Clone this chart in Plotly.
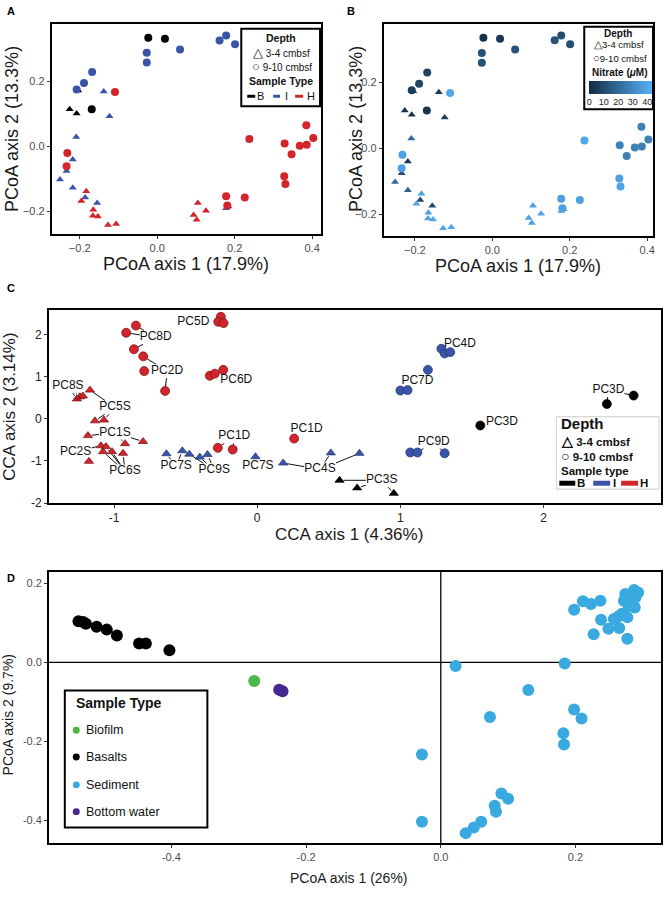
import plotly.graph_objects as go

W, H = 666, 902
FONT = "Liberation Sans, Arial, Helvetica, sans-serif"

# ---------------- panels A and B : PCoA (17.9% / 13.3%)
pcoa_x = [-0.023, 0.020, -0.169, -0.204, -0.226, -0.208,
          -0.027, -0.027, 0.059, 0.161, 0.178, 0.201, -0.168, -0.189, -0.208,
          -0.138, -0.123, -0.209, -0.218, -0.234, -0.251, -0.218, -0.186, -0.155, 0.178,
          -0.109, -0.232, -0.234, 0.238, 0.329, 0.347, 0.368, 0.386, 0.385, 0.403,
          0.328, 0.331, 0.178, 0.181, 0.226,
          0.184, -0.183, -0.196, -0.165, -0.166, -0.153, -0.127, -0.106,
          0.105, 0.126, 0.094, 0.102]
pcoa_y = [0.334, 0.331, 0.114, 0.172, 0.114, 0.101,
          0.288, 0.258, 0.298, 0.326, 0.341, 0.314, 0.229, 0.195, 0.175,
          0.169, 0.093, 0.029, -0.040, -0.076, -0.102, -0.127, -0.157, -0.174, -0.190,
          0.167, -0.020, -0.061, 0.023, 0.009, -0.024, 0.002, 0.005, 0.065, 0.026,
          -0.092, -0.116, -0.153, -0.182, -0.157,
          -0.185, -0.138, -0.168, -0.195, -0.213, -0.216, -0.242, -0.239,
          -0.174, -0.198, -0.211, -0.226]
pcoa_type = (["B"] * 6 + ["I"] * 19 + ["H"] * 27)
pcoa_depth = (["D"] * 3 + ["S"] * 3 + ["D"] * 9 + ["S"] * 10 + ["D"] * 15 + ["S"] * 12)
pcoa_nitrate = [2, 4, 3, 5, 3, 3,
                12, 12, 13, 13, 11, 11, 8, 9, 6,
                5, 6, 20, 5, 12, 20, 18, 10, 10, 38,
                40, 38, 38, 40, 28, 27, 28, 28, 28, 28,
                38, 40, 38, 38, 38,
                36, 38, 40, 38, 38, 40, 40, 40,
                38, 38, 38, 38]

# ---------------- panel C : CCA (4.36% / 3.14%)
cca_x = [-0.254, -0.272, -0.235, -0.915, -0.847, -0.861, -0.796, -0.789, -0.643,
         -0.331, -0.296, -0.237, -0.275, -0.171, 0.258,
         -1.259, -1.238, -1.217, -1.168, -1.133, -1.070, -1.182, -0.923, -0.797,
         -1.091, -1.056, -1.077, -1.014, -0.937, -1.175,
         -0.634, -0.523, -0.474, -0.401, -0.347, -0.012, 0.181, 0.514, 0.714,
         1.286, 1.309, 1.348, 1.192, 1.000, 1.050, 1.069, 1.119, 1.309,
         1.558, 2.442, 2.629,
         0.575, 0.698, 0.954]
cca_y = [2.42, 2.30, 2.27, 2.04, 2.21, 1.65, 1.48, 1.13, 0.66,
         1.02, 1.07, 1.16, -0.69, -0.73, -0.47,
         0.47, 0.52, 0.54, 0.68, -0.05, -0.03, -0.40, -0.59, -0.54,
         -0.64, -0.66, -0.78, -0.78, -0.82, -1.01,
         -0.83, -0.76, -0.84, -0.91, -0.85, -0.90, -1.05, -0.81, -0.82,
         1.66, 1.55, 1.58, 1.16, 0.67, 0.68, -0.80, -0.80, -0.82,
         -0.16, 0.35, 0.55,
         -1.46, -1.64, -1.77]
cca_type = ["H"] * 30 + ["I"] * 18 + ["B"] * 6
cca_depth = ["D"] * 15 + ["S"] * 15 + ["S"] * 9 + ["D"] * 9 + ["D"] * 3 + ["S"] * 3
cca_lab_text = ["PC5D", "PC8D", "PC2D", "PC6D", "PC1D", "PC1D", "PC8S", "PC5S", "PC1S",
                "PC2S", "PC6S", "PC7S", "PC9S", "PC7S", "PC4S", "PC3S", "PC4D", "PC7D",
                "PC9D", "PC3D", "PC3D"]
cca_lab_x = [-0.446, -0.709, -0.629, -0.146, -0.160, 0.345, -1.322, -0.993, -0.993,
             -1.268, -0.923, -0.566, -0.300, 0.005, 0.439, 0.870, 1.416, 1.119,
             1.233, 1.709, 2.453]
cca_lab_y = [2.29, 1.93, 1.13, 0.93, -0.42, -0.24, 0.77, 0.27, -0.33,
             -0.78, -1.25, -1.13, -1.22, -1.13, -1.20, -1.46, 1.78, 0.90,
             -0.54, -0.08, 0.68]
# which label each point is tied to (-1: none)
cca_link = [-1, -1, -1, 1, 1, 1, 2, -1, 2,
            -1, -1, -1, 4, 4, -1,
            6, 6, 6, 7, 7, 7, 8, 8, 8,
            9, 10, 10, 10, 10, -1,
            11, 11, 12, 12, 12, -1, 14, 14, 14,
            -1, -1, -1, -1, 17, -1, 18, 18, 18,
            -1, 20, 20,
            15, 15, 15]

# ---------------- panel D : PCoA (26% / 9.7%)
basalt_x = [-0.538, -0.531, -0.527, -0.511, -0.496, -0.481, -0.448, -0.438, -0.403]
basalt_y = [0.104, 0.102, 0.098, 0.090, 0.083, 0.068, 0.048, 0.048, 0.031]
biofilm_x = [-0.277]
biofilm_y = [-0.047]
water_x = [-0.240, -0.235]
water_y = [-0.069, -0.073]
sed_x = [0.022, 0.184, 0.130, 0.073, 0.198, 0.209, 0.182, 0.183, -0.028, -0.028,
         0.090, 0.100, 0.080, 0.082, 0.060, 0.049, 0.037,
         0.198, 0.211, 0.223, 0.237, 0.227, 0.238, 0.249, 0.257, 0.265, 0.264,
         0.277, 0.277, 0.269, 0.274, 0.287, 0.293, 0.272, 0.284, 0.288, 0.279, 0.289]
sed_y = [-0.009, -0.003, -0.070, -0.138, -0.119, -0.142, -0.179, -0.208, -0.233, -0.403,
         -0.332, -0.345, -0.363, -0.378, -0.403, -0.418, -0.432,
         0.133, 0.155, 0.148, 0.156, 0.071, 0.108, 0.085, 0.110, 0.087, 0.117,
         0.114, 0.060, 0.123, 0.173, 0.183, 0.177, 0.156, 0.156, 0.139, 0.143, 0.164]

TYPE_COL = {"B": "#000000", "I": "#3A55A8", "H": "#D3242C"}
C_EDGE = {"B": "#000000", "I": "#1E2F6E", "H": "#6E1014"}
SYM = {"S": "triangle-up", "D": "circle"}

A_XR, A_YR = [-0.272, 0.423], [-0.27, 0.377]
B_XR, B_YR = [-0.28, 0.415], [-0.266, 0.376]
C_XR, C_YR = [-1.455, 2.82], [-2.0, 2.59]
D_XR, D_YR = [-0.582, 0.327], [-0.458, 0.23]


def px(x):
    return x / W


def py(y):
    return 1 - y / H


fig = go.Figure()

# panel A
for d in ["S", "D"]:
    idx = [i for i in range(len(pcoa_x)) if pcoa_depth[i] == d]
    fig.add_trace(go.Scatter(
        x=[pcoa_x[i] for i in idx], y=[pcoa_y[i] for i in idx], mode="markers",
        marker=dict(symbol=SYM[d], size=7 if d == "S" else 8,
                    color=[TYPE_COL[pcoa_type[i]] for i in idx], line=dict(width=0)),
        xaxis="x", yaxis="y", showlegend=False))

# panel B
for d in ["S", "D"]:
    idx = [i for i in range(len(pcoa_x)) if pcoa_depth[i] == d]
    fig.add_trace(go.Scatter(
        x=[pcoa_x[i] for i in idx], y=[pcoa_y[i] for i in idx], mode="markers",
        marker=dict(symbol=SYM[d], size=7 if d == "S" else 8,
                    color=[pcoa_nitrate[i] for i in idx], coloraxis="coloraxis",
                    line=dict(width=0)),
        xaxis="x2", yaxis="y2", showlegend=False))

# panel C leader segments
cxs = (663 - 49) / (C_XR[1] - C_XR[0])
cys = (507 - 312) / (C_YR[1] - C_YR[0])
seg_x, seg_y = [], []
for i, li in enumerate(cca_link):
    if li < 0:
        continue
    lx, ly = cca_lab_x[li], cca_lab_y[li]
    ddx, ddy = cca_x[i] - lx, cca_y[i] - ly
    dx, dy = ddx * cxs, ddy * cys
    hw = 3.5 * len(cca_lab_text[li]) + 2
    hh = 7
    t0 = min(hw / abs(dx) if dx else 1e9, hh / abs(dy) if dy else 1e9)
    L = (dx * dx + dy * dy) ** 0.5
    t1 = 1 - 4.0 / L
    if t0 >= t1:
        continue
    seg_x += [lx + t0 * ddx, lx + t1 * ddx, None]
    seg_y += [ly + t0 * ddy, ly + t1 * ddy, None]
fig.add_trace(go.Scatter(x=seg_x, y=seg_y, mode="lines",
                         line=dict(color="#111111", width=1),
                         xaxis="x3", yaxis="y3", showlegend=False, hoverinfo="skip"))

for d in ["S", "D"]:
    idx = [i for i in range(len(cca_x)) if cca_depth[i] == d]
    fig.add_trace(go.Scatter(
        x=[cca_x[i] for i in idx], y=[cca_y[i] for i in idx], mode="markers",
        marker=dict(symbol=SYM[d], size=8 if d == "S" else 9,
                    color=[TYPE_COL[cca_type[i]] for i in idx],
                    line=dict(width=0.7, color=[C_EDGE[cca_type[i]] for i in idx])),
        xaxis="x3", yaxis="y3", showlegend=False))

fig.add_trace(go.Scatter(x=cca_lab_x, y=cca_lab_y, text=cca_lab_text, mode="text",
                         textfont=dict(size=12, color="#111111", family=FONT),
                         xaxis="x3", yaxis="y3", showlegend=False))

# panel D
for xs, ys, col in [(basalt_x, basalt_y, "#000000"), (biofilm_x, biofilm_y, "#4DB848"),
                    (water_x, water_y, "#43288F"), (sed_x, sed_y, "#39A9E0")]:
    fig.add_trace(go.Scatter(x=xs, y=ys, mode="markers",
                             marker=dict(size=12, color=col, line=dict(width=0)),
                             xaxis="x4", yaxis="y4", showlegend=False))


def ax(dom, rng, tv, fmt, lw, tsize=11, tcol="#4D4D4D", ttext=None):
    d = dict(domain=dom, range=rng, tickvals=tv, showgrid=False, zeroline=False,
             showline=True, mirror=True, linecolor="black", linewidth=lw,
             ticks="outside", ticklen=3, tickcolor="#333333", tickwidth=1,
             tickfont=dict(size=tsize, color=tcol, family=FONT))
    if fmt:
        d["tickformat"] = fmt
    if ttext:
        d["ticktext"] = ttext
    return d


fig.update_layout(
    width=W, height=H, margin=dict(l=0, r=0, t=0, b=0),
    paper_bgcolor="white", plot_bgcolor="white", font=dict(family=FONT),
    xaxis=ax([px(52), px(322)], A_XR, [-0.2, 0, 0.2, 0.4], ".1f", 2),
    yaxis=ax([py(236), py(24)], A_YR, [-0.2, 0, 0.2], ".1f", 2),
    xaxis2=dict(ax([px(385), px(655)], B_XR, [-0.2, 0, 0.2, 0.4], ".1f", 2), anchor="y2"),
    yaxis2=dict(ax([py(238), py(24)], B_YR, [-0.2, 0, 0.2], ".1f", 2), anchor="x2"),
    xaxis3=dict(ax([px(49), px(663)], C_XR, [-1, 0, 1, 2], None, 1.5, 12, "#222222",
                   ["-1", "0", "1", "2"]), anchor="y3"),
    yaxis3=dict(ax([py(507), py(312)], C_YR, [-2, -1, 0, 1, 2], None, 1.5, 12, "#222222",
                   ["-2", "-1", "0", "1", "2"]), anchor="x3"),
    xaxis4=dict(ax([px(49), px(663)], D_XR, [-0.4, -0.2, 0, 0.2], None, 1.5,
                   ttext=["-0.4", "-0.2", "0.0", "0.2"]), anchor="y4"),
    yaxis4=dict(ax([py(850), py(576)], D_YR, [-0.4, -0.2, 0, 0.2], None, 1.5,
                   ttext=["-0.4", "-0.2", "0.0", "0.2"]), anchor="x4"),
    coloraxis=dict(colorscale=[[0, "#132B43"], [1, "#56B1F7"]], cmin=0, cmax=43.5,
                   colorbar=dict(orientation="h", xanchor="left", x=px(591),
                                 yanchor="top", y=py(82), lenmode="pixels", len=63,
                                 thickness=13, xpad=0, ypad=0, outlinewidth=0,
                                 tickvals=[0, 10, 20, 30, 40], ticks="",
                                 tickfont=dict(size=9, color="#222222", family=FONT))),
)

shapes = []
ann = []


def text(x, y, s, size, bold=False, anchor="center", color="#111111", angle=0):
    ann.append(dict(x=px(x), y=py(y), xref="paper", yref="paper", showarrow=False,
                    text="<b>%s</b>" % s if bold else s, xanchor=anchor, yanchor="middle",
                    textangle=angle, font=dict(size=size, color=color, family=FONT)))


def rect(x0, y0, x1, y1, lw=0, lc="black", fill="white"):
    shapes.append(dict(type="rect", xref="paper", yref="paper", x0=px(x0), x1=px(x1),
                       y0=py(y0), y1=py(y1), line=dict(width=lw, color=lc), fillcolor=fill))


def glyph(g, size):
    return "<span style='font-size:%dpx'>%s</span>" % (size, g)


# panel letters
for s, x, y in [("A", 5, 11), ("B", 346, 11), ("C", 5, 290), ("D", 5, 583)]:
    text(x, y, s, 11, True, "left", "#000000")

# axis titles
text(187, 266, "PCoA axis 1 (17.9%)", 18, color="#1a1a1a")
text(12, 130, "PCoA axis 2 (13.3%)", 18, color="#1a1a1a", angle=-90)
text(520, 268, "PCoA axis 1 (17.9%)", 18, color="#1a1a1a")
text(357, 130, "PCoA axis 2 (13.3%)", 18, color="#1a1a1a", angle=-90)
text(350, 539, "CCA axis 1 (4.36%)", 17, color="#1a1a1a")
text(10, 410, "CCA axis 2 (3.14%)", 17, color="#1a1a1a", angle=-90)
text(350, 885, "PCoA axis 1 (26%)", 14, color="#1a1a1a")
text(8, 720, "PCoA axis 2 (9.7%)", 14, color="#1a1a1a", angle=-90)

# legend A
rect(242, 29, 321, 107, 2)
text(282, 38, "Depth", 10.5, True)
text(282, 53, glyph("△", 13) + " 3-4 cmbsf", 10)
text(283, 67, glyph("○", 13) + " 9-10 cmbsf", 10)
text(282, 82, "Sample Type", 10.5, True)
for x0, x1, tx, lab, c in [(248, 256, 261, "B", "B"), (274, 281, 287, "I", "I"),
                           (296, 304, 312, "H", "H")]:
    rect(x0, 95.5, x1, 98.5, 0, fill=TYPE_COL[c])
    text(tx, 97, lab, 11)

# legend B
rect(586, 27, 655, 110, 2)
text(620, 34, "Depth", 10, True)
text(621, 44, glyph("△", 11) + "3-4 cmbsf", 9.5)
text(622, 58, glyph("○", 11) + "9-10 cmbsf", 9.5)
text(622, 73, "Nitrate (<i>μ</i>M)", 10, True)

# legend C
rect(558, 420, 661, 493, 1, "#cccccc")
text(561, 427, "Depth", 15, True, "left")
text(561, 444, glyph("△", 14) + " 3-4 cmbsf", 11.5, True, "left")
text(561, 460, glyph("○", 14) + " 9-10 cmbsf", 11.5, True, "left")
text(561, 475, "Sample type", 11.5, True, "left")
for x0, x1, tx, lab, c in [(561, 577, 583, "B", "B"), (595, 612, 616, "I", "I"),
                           (623, 640, 646, "H", "H")]:
    rect(x0, 484.5, x1, 489.5, 0, fill=TYPE_COL[c])
    text(tx, 487, lab, 11.5, True)

# legend D
rect(65, 696, 208, 834, 2)
text(74, 709, "Sample Type", 14, True, "left")
for y, lab, c in [(736, "Biofilm", "#4DB848"), (763, "Basalts", "#000000"),
                  (791, "Sediment", "#39A9E0"), (818, "Bottom water", "#43288F")]:
    shapes.append(dict(type="circle", xref="paper", yref="paper", x0=px(73), x1=px(80),
                       y0=py(y + 3.5), y1=py(y - 3.5), fillcolor=c, line=dict(width=0)))
    text(84, y, lab, 12.5, anchor="left")

# zero lines in D
shapes.append(dict(type="line", xref="x4", yref="y4 domain", x0=0, x1=0, y0=0, y1=1,
                   line=dict(color="black", width=1.3), layer="below"))
shapes.append(dict(type="line", xref="x4 domain", yref="y4", x0=0, x1=1, y0=0, y1=0,
                   line=dict(color="black", width=1.3), layer="below"))

fig.update_layout(shapes=shapes, annotations=ann)
fig.write_html("out.html", config={"displayModeBar": False},
               post_script="document.body.style.margin='0';"
                           "document.documentElement.style.overflow='hidden';")
